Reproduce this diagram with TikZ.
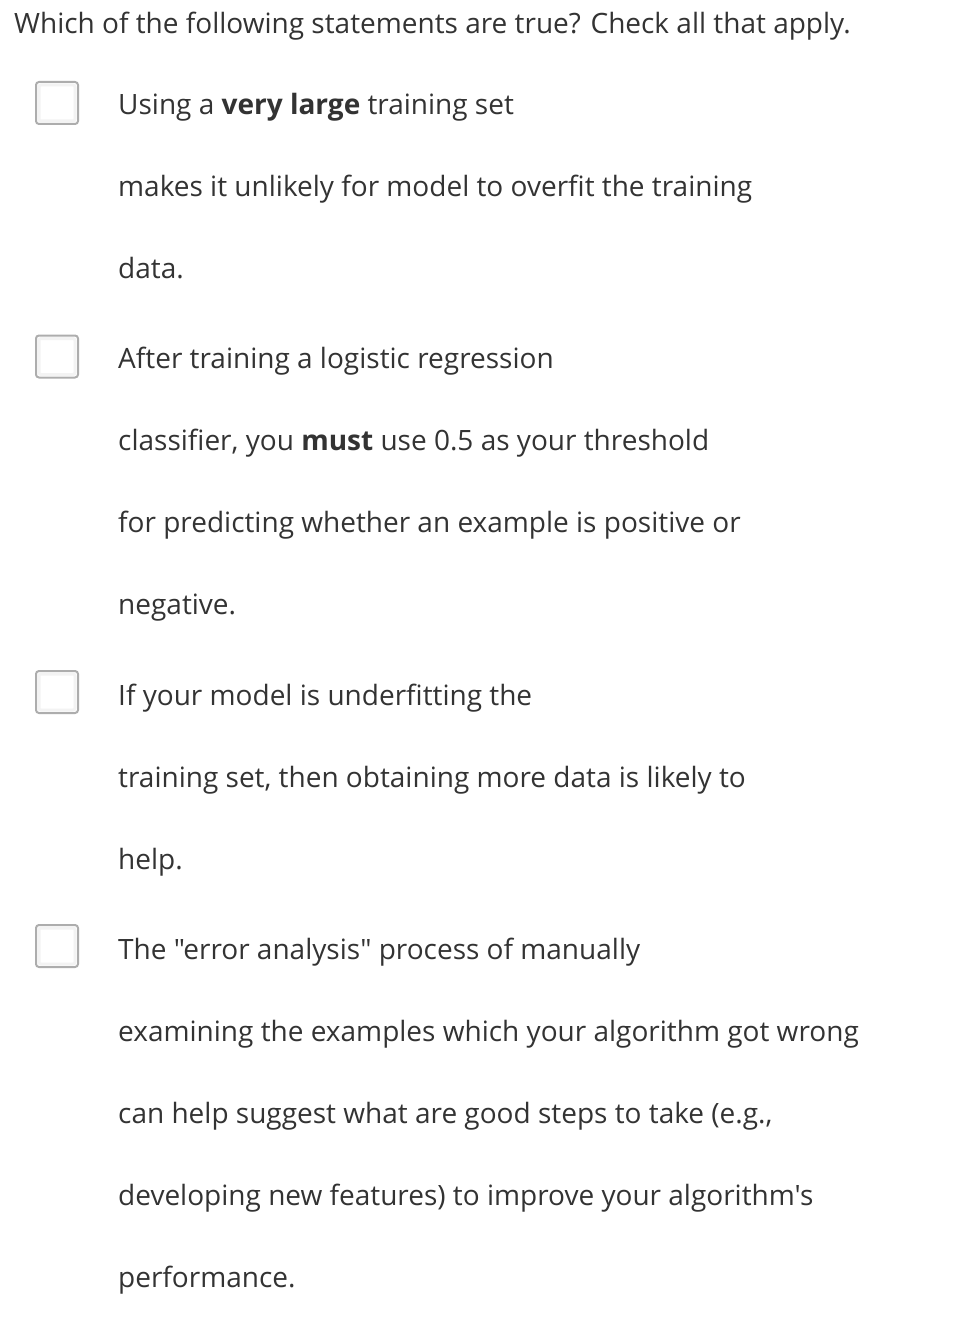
\documentclass[tikz,border=0pt]{standalone}
\usepackage{fontspec}
\setmainfont{Open Sans}
\newfontfamily\osans{Open Sans}
\definecolor{txt}{HTML}{333333}
\definecolor{boxline}{HTML}{ADADAD}
\definecolor{boxin}{HTML}{F3F3F3}
\tikzset{
  title/.style={anchor=base west, inner sep=0pt, text=txt, font=\osans\fontsize{28.1}{33}\selectfont},
  opt/.style={anchor=base west, inner sep=0pt, text=txt, font=\osans\fontsize{28.1}{33}\selectfont},
  cbox/.style={draw=boxline, line width=2bp, rounded corners=3bp, fill=white, minimum width=42bp, minimum height=42bp, inner sep=0pt, anchor=north west},
  cboxin/.style={draw=boxin, line width=3bp, rounded corners=2bp, minimum width=36bp, minimum height=36bp, inner sep=0pt}
}
\begin{document}
\begin{tikzpicture}[x=1bp,y=-1bp]
\useasboundingbox[fill=white] (0,0) rectangle (978,1318);
\node[title] (t) at (14,34) {Which of the following statements are true? Check all that apply.};
% option 1
\node[cbox] (b1) at (35,81) {};
\node[cboxin] (b1i) at (b1.center) {};
\node[opt] (o1a) at (118,114.5) {Using a \textbf{very large} training set};
\node[opt] (o1b) at (118,196.5) {makes it unlikely for model to overfit the training};
\node[opt] (o1c) at (118,279) {data.};
% option 2
\node[cbox] (b2) at (35,334.5) {};
\node[cboxin] (b2i) at (b2.center) {};
\node[opt] (o2a) at (118,368.5) {After training a logistic regression};
\node[opt] (o2b) at (118,450.5) {classifier, you \textbf{must} use 0.5 as your threshold};
\node[opt] (o2c) at (118,532.5) {for predicting whether an example is positive or};
\node[opt] (o2d) at (118,614.5) {negative.};
% option 3
\node[cbox] (b3) at (35,670) {};
\node[cboxin] (b3i) at (b3.center) {};
\node[opt] (o3a) at (118,705) {If your model is underfitting the};
\node[opt] (o3b) at (118,787) {training set, then obtaining more data is likely to};
\node[opt] (o3c) at (118,869) {help.};
% option 4
\node[cbox] (b4) at (35,924) {};
\node[cboxin] (b4i) at (b4.center) {};
\node[opt] (o4a) at (118,959) {The "error analysis" process of manually};
\node[opt] (o4b) at (118,1041) {examining the examples which your algorithm got wrong};
\node[opt] (o4c) at (118,1123) {can help suggest what are good steps to take (e.g.,};
\node[opt] (o4d) at (118,1205) {developing new features) to improve your algorithm's};
\node[opt] (o4e) at (118,1287) {performance.};
\end{tikzpicture}
\end{document}
